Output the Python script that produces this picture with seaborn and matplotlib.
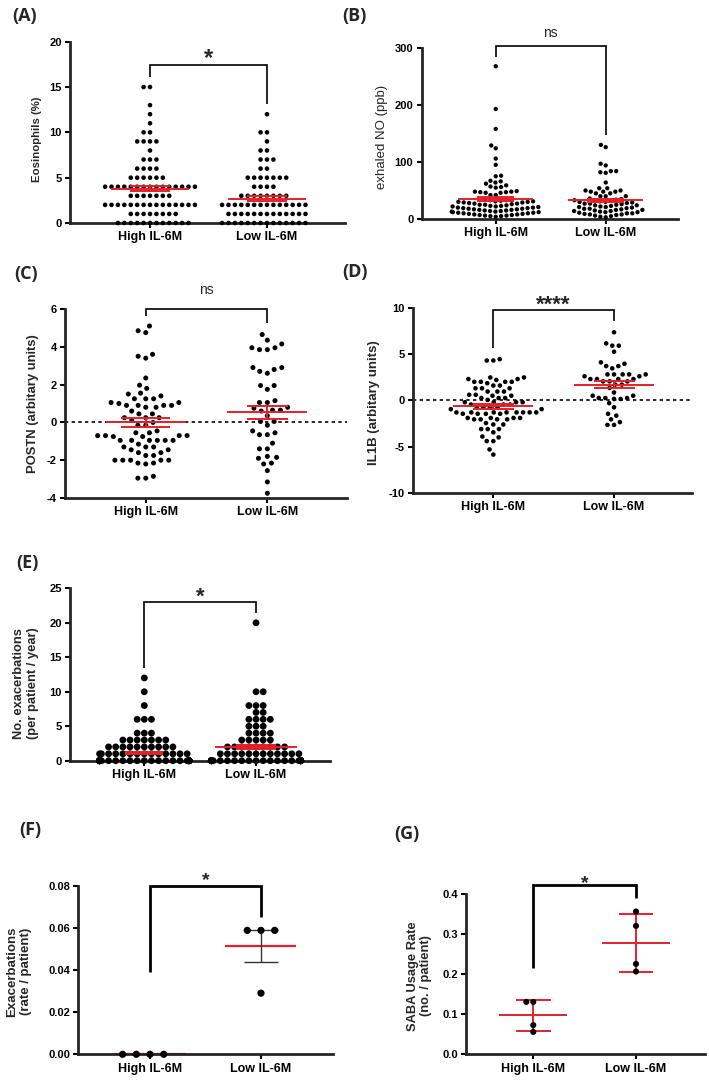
import warnings
warnings.filterwarnings("ignore")
import matplotlib
matplotlib.use("Agg")
import matplotlib.pyplot as plt
import numpy as np
import pandas as pd
import seaborn as sns

sns.set_style("ticks")
plt.rcParams['font.family'] = ['Liberation Sans', 'DejaVu Sans']

W, H = 709, 1081
fig = plt.figure(figsize=(W / 100, H / 100), dpi=100)

groups = ["High IL-6M", "Low IL-6M"]
RED = "#e4202a"

# ---------------- data ----------------
# (A) Eosinophils (%)
eos_high = [15, 15, 13, 12, 11, 10, 10, 9, 9, 9, 9, 8, 7, 7, 7, 6, 6, 6, 6,
            5, 5, 5, 5, 5, 5,
            4, 4, 4, 4, 4, 4, 4, 4, 4, 4, 4, 4, 4, 4, 4,
            3, 3, 3, 3, 3, 3, 3,
            2, 2, 2, 2, 2, 2, 2, 2, 2, 2, 2, 2, 2, 2, 2,
            1, 1, 1, 1, 1, 1, 1, 1,
            0, 0, 0, 0, 0, 0, 0, 0, 0, 0, 0, 0]
eos_low = [12, 10, 10, 9, 8, 8, 7, 7, 7, 6, 6,
           5, 5, 5, 5, 5, 5, 5,
           4, 4, 4, 4,
           3, 3, 3, 3, 3, 3, 3, 3,
           2, 2, 2, 2, 2, 2, 2, 2, 2, 2, 2, 2, 2, 2,
           1, 1, 1, 1, 1, 1, 1, 1, 1, 1, 1, 1, 1,
           0, 0, 0, 0, 0, 0, 0, 0, 0, 0, 0, 0, 0, 0]
eos_mean = [3.8, 2.7]
eos_sem = [0.3, 0.25]

# (B) exhaled NO (ppb)
no_high = [268, 193, 158, 129, 124, 106, 95, 76, 75, 67, 66, 64, 62, 59, 57, 56, 55,
           49, 48, 48, 47, 47, 46, 46, 42, 42,
           35, 34, 33, 33, 32, 31, 31, 30, 30, 29, 29, 28, 27, 27, 26, 25, 25, 24,
           23, 23, 22, 22, 21, 20, 20, 19, 19, 18, 18, 17, 17, 16, 16, 15, 15, 14,
           14, 13, 13, 12, 12, 11, 11, 10, 10, 9, 9, 8, 8, 7, 7, 6, 6, 5, 5, 4]
no_low = [130, 126, 97, 94, 84, 84, 82, 81, 64, 54, 54, 50, 50, 48, 48, 48, 45, 45,
          40, 40, 40,
          36, 35, 34, 33, 33, 32, 31, 30, 30, 29, 28, 27, 27, 26, 25, 24, 24, 23,
          22, 21, 21, 20, 19, 18, 18, 17, 16, 16, 15, 14, 14, 13, 12, 12, 11, 10,
          10, 9, 8, 8, 7, 6, 5, 4, 3]
no_mean = [35.5, 32.5]
no_sem = [3.5, 2.5]

# (C) POSTN
postn_high = [5.1, 4.85, 4.75, 3.6, 3.5, 3.4, 2.35, 1.97, 1.8, 1.55, 1.5, 1.4,
              1.25, 1.25, 1.25, 1.05, 1.05, 1.0, 0.9, 0.9, 0.9, 0.9, 0.8, 0.8,
              0.6, 0.45, 0.45, 0.25, 0.25, 0.25, 0.1, 0.0, -0.15, -0.15, -0.45,
              -0.55, -0.55, -0.7, -0.7, -0.7, -0.7, -0.75, -0.75, -0.95, -0.95,
              -0.95, -0.95, -0.95, -0.95, -1.15, -1.3, -1.3, -1.3, -1.45, -1.45,
              -1.6, -1.6, -1.75, -1.75, -2.0, -2.0, -2.0, -2.0, -2.0, -2.15,
              -2.15, -2.2, -2.85, -2.95, -2.95]
postn_low = [4.65, 4.35, 4.15, 3.95, 3.95, 3.85, 3.85, 2.9, 2.9, 2.8, 2.7, 2.6,
             1.95, 1.95, 1.75, 1.15, 1.05, 1.05, 0.8, 0.75, 0.65, 0.65, 0.6,
             0.35, 0.05, 0.05, -0.15, -0.45, -0.55, -0.65, -0.65, -1.1, -1.4,
             -1.4, -1.8, -1.85, -1.9, -2.15, -2.2, -2.55, -3.15, -3.75]
postn_mean = [0.0, 0.53]
postn_sem = [0.22, 0.35]

# (D) IL1B
il1b_high = [4.45, 4.3, 4.3, 2.47, 2.47, 2.3, 2.3, 2.2, 2.0, 2.0, 2.0, 2.0, 1.85,
             1.6, 1.6, 1.3, 1.3, 1.3, 0.95, 0.95, 0.95, 0.6, 0.6, 0.5, 0.5, 0.25,
             0.25, 0.25, 0.05, -0.2, -0.2, -0.2, -0.2, -0.45, -0.45, -0.45,
             -0.75, -0.75, -0.75, -0.75, -0.95, -0.95, -1.3, -1.3, -1.3, -1.3,
             -1.3, -1.3, -1.3, -1.3, -1.45, -1.45, -1.45, -1.45, -1.9, -1.9,
             -1.9, -1.9, -2.05, -2.05, -2.05, -2.05, -2.45, -2.6, -2.6, -3.1,
             -3.1, -3.1, -3.45, -3.9, -4.0, -4.4, -4.4, -5.3, -5.85]
il1b_low = [7.35, 6.15, 5.9, 5.9, 5.25, 4.1, 3.95, 3.7, 3.7, 3.45, 2.8, 2.8, 2.8,
            2.8, 2.8, 2.6, 2.6, 2.3, 2.3, 2.3, 2.3, 2.05, 2.05, 2.05, 1.7, 1.7,
            1.35, 0.85, 0.5, 0.5, 0.25, 0.25, 0.25, 0.15, 0.15, -0.3, -0.75,
            -1.45, -1.65, -2.05, -2.35, -2.65, -2.65]
il1b_mean = [-0.65, 1.7]
il1b_sem = [0.3, 0.35]

# (E) No. exacerbations (per patient / year)
exa_high = [12, 10, 8, 6, 6, 6, 4, 4, 4,
            3, 3, 3, 3, 3, 3, 3,
            2, 2, 2, 2, 2, 2, 2, 2, 2, 2,
            1, 1, 1, 1, 1, 1, 1, 1, 1, 1, 1, 1, 1, 1,
            0, 0, 0, 0, 0, 0, 0, 0, 0, 0, 0, 0, 0, 0, 0, 0, 0, 0, 0, 0,
            0, 0, 0, 0, 0, 0, 0, 0, 0, 0, 0, 0, 0, 0, 0, 0, 0, 0, 0, 0]
exa_low = [20, 10, 10, 8, 8, 8, 7, 7, 6, 6, 6, 6, 5, 5, 5, 4, 4, 4, 4,
           3, 3, 3, 3, 3,
           2, 2, 2, 2, 2, 2, 2, 2, 2,
           1, 1, 1, 1, 1, 1, 1, 1, 1, 1, 1, 1,
           0, 0, 0, 0, 0, 0, 0, 0, 0, 0, 0, 0, 0, 0, 0, 0, 0, 0, 0, 0,
           0, 0, 0, 0, 0, 0, 0, 0, 0, 0]
exa_mean = [1.1, 2.03]
exa_sem = [0.17, 0.3]

# (F) Exacerbations (rate / patient)
rate_high = [0.0, 0.0, 0.0, 0.0]
rate_low = [0.0588, 0.0588, 0.0588, 0.029]
rate_mean = [0.0, 0.0514]
rate_sem = [0.0, 0.0074]

# (G) SABA usage rate (no. / patient)
saba_high = [0.131, 0.131, 0.073, 0.056]
saba_low = [0.357, 0.321, 0.226, 0.207]
saba_mean = [0.0975, 0.278]
saba_sd = [0.039, 0.072]


# ---------------- helpers ----------------
def make_axes(l, t, r, b):
    return fig.add_axes([l / W, 1 - b / H, (r - l) / W, (b - t) / H])


def swarm(ax, high, low, size, gap):
    # gap: invisible edge width (pt) that widens the swarm spacing
    df = pd.DataFrame({"group": [groups[0]] * len(high) + [groups[1]] * len(low),
                       "value": list(high) + list(low)})
    sns.swarmplot(data=df, x="group", y="value", order=groups, color="black",
                  size=size, linewidth=gap, edgecolor="none", ax=ax, zorder=3)
    for c in ax.collections:
        c.set_clip_on(False)


def style(ax, xlim, ylim, yticks, yticklabels, spine_lw=2.0):
    sns.despine(ax=ax)
    ax.set_xlim(*xlim)
    ax.set_ylim(*ylim)
    ax.set_yticks(yticks)
    ax.set_yticklabels(yticklabels, fontsize=8, fontweight="bold")
    ax.set_xticks([0, 1])
    ax.set_xticklabels(groups, fontsize=9, fontweight="bold")
    ax.set_xlabel("")
    for s in ("left", "bottom"):
        ax.spines[s].set_linewidth(spine_lw)
    ax.tick_params(width=1.5, length=3.5, pad=2.5, colors="black")


def ylabel(ax, text, xpx, l, r, fs, bold, yfrac=0.5):
    ax.set_ylabel(text, fontsize=fs, fontweight="bold" if bold else "normal",
                  linespacing=1.15)
    ax.yaxis.set_label_coords((xpx - l) / (r - l), yfrac)
    ax.yaxis.label.set_verticalalignment("center")


def mean_err(ax, mean, err, mean_hw, cap_hw, color=RED, err_color=RED,
             lw=1.4, err_lw=1.4, z=4):
    for i in range(2):
        ax.hlines(mean[i], i - mean_hw[i], i + mean_hw[i], color=color, lw=lw,
                  zorder=z, clip_on=False)
        if err[i] > 0:
            ax.hlines([mean[i] - err[i], mean[i] + err[i]], i - cap_hw[i],
                      i + cap_hw[i], color=err_color, lw=err_lw, zorder=z,
                      clip_on=False)
            ax.vlines(i, mean[i] - err[i], mean[i] + err[i], color=err_color,
                      lw=err_lw, zorder=z, clip_on=False)


def bracket(ax, yl, yt, yr, lw):
    ax.plot([0, 0, 1, 1], [yl, yt, yt, yr], color="black", lw=lw,
            clip_on=False, solid_capstyle="butt", solid_joinstyle="miter")


def sig(ax, text, ycenter, fs, bold=True, frac=0.57):
    ax.annotate(text, xy=(0.5, ycenter), xytext=(0, -frac * fs),
                textcoords="offset points", ha="center", va="baseline",
                fontsize=fs, fontweight="bold" if bold else "normal",
                annotation_clip=False)


def letter(text, xpx, ypx):
    fig.text(xpx / W, 1 - ypx / H, text, fontsize=13, fontweight="bold",
             family=["Open Sans", "DejaVu Sans"], ha="left", va="center")


# ---------------- (A) ----------------
box = (70, 41.7, 345, 223)
ax = make_axes(*box)
swarm(ax, eos_high, eos_low, 3.3, 1.1)
style(ax, (-0.684, 1.667), (0, 20), [0, 5, 10, 15, 20], ["0", "5", "10", "15", "20"])
ylabel(ax, "Eosinophils (%)", 36.5, box[0], box[2], 8.2, True, 0.46)
mean_err(ax, eos_mean, eos_sem, [0.33, 0.33], [0.17, 0.17])
bracket(ax, 16.1, 17.4, 13.1, 1.2)
sig(ax, "*", 18.9, 17)
letter("(A)", 12, 16.5)

# ---------------- (B) ----------------
box = (421.7, 48, 678, 219)
ax = make_axes(*box)
swarm(ax, no_high, no_low, 3.1, 0.6)
style(ax, (-0.673, 1.657), (0, 300), [0, 100, 200, 300], ["0", "100", "200", "300"])
ylabel(ax, "exhaled NO (ppb)", 382, box[0], box[2], 9.5, False, 0.48)
mean_err(ax, no_mean, no_sem, [0.34, 0.34], [0.17, 0.17])
bracket(ax, 285, 304, 147, 1.2)
sig(ax, "ns", 326, 10, bold=False, frac=0.26)
letter("(B)", 342, 16)

# ---------------- (C) ----------------
box = (65, 309, 347, 498)
ax = make_axes(*box)
swarm(ax, postn_high, postn_low, 3.6, 1.8)
style(ax, (-0.664, 1.655), (-4, 6), [-4, -2, 0, 2, 4, 6],
      ["-4", "-2", "0", "2", "4", "6"])
ax.axhline(0, color="black", lw=1.2, ls=(0, (2, 2)), zorder=2)
ylabel(ax, "POSTN (arbitary units)", 33.5, box[0], box[2], 9.4, True, 0.5)
mean_err(ax, postn_mean, postn_sem, [0.33, 0.33], [0.2, 0.17])
bracket(ax, 5.62, 6.0, 5.24, 1.2)
sig(ax, "ns", 7.0, 10, bold=False, frac=0.26)
letter("(C)", 14, 274)

# ---------------- (D) ----------------
box = (413.3, 307.7, 692, 493)
ax = make_axes(*box)
swarm(ax, il1b_high, il1b_low, 3.3, 1.2)
style(ax, (-0.663, 1.646), (-10, 10), [-10, -5, 0, 5, 10],
      ["-10", "-5", "0", "5", "10"])
ax.axhline(0, color="black", lw=1.2, ls=(0, (2, 2)), zorder=2)
ylabel(ax, "IL1B (arbitary units)", 374, box[0], box[2], 9.5, True, 0.49)
mean_err(ax, il1b_mean, il1b_sem, [0.33, 0.33], [0.17, 0.17])
bracket(ax, 5.63, 9.75, 8.56, 1.2)
sig(ax, "****", 11.04, 16)
letter("(D)", 342, 272)

# ---------------- (E) ----------------
box = (70, 588.3, 330, 760.7)
ax = make_axes(*box)
swarm(ax, exa_high, exa_low, 4.9, 0)
style(ax, (-0.665, 1.662), (0, 25), [0, 5, 10, 15, 20, 25],
      ["0", "5", "10", "15", "20", "25"])
ylabel(ax, "No. exacerbations\n(per patient / year)", 26, box[0], box[2], 9.3, True, 0.45)
mean_err(ax, exa_mean, exa_sem, [0.17, 0.37], [0.17, 0.18])
bracket(ax, 13.5, 22.96, 21.4, 1.2)
sig(ax, "*", 24.7, 16)
letter("(E)", 16, 563)

# ---------------- (F) ----------------
box = (78.3, 885.7, 333, 1054.3)
ax = make_axes(*box)
swarm(ax, rate_high, rate_low, 5.2, 4.2)
style(ax, (-0.646, 1.649), (0, 0.08), [0, 0.02, 0.04, 0.06, 0.08],
      ["0.00", "0.02", "0.04", "0.06", "0.08"])
ylabel(ax, "Exacerbations\n(rate / patient)", 19, box[0], box[2], 9.5, True, 0.49)
mean_err(ax, rate_mean, rate_sem, [0.32, 0.32], [0.155, 0.155],
         err_color="#333333", lw=1.6, err_lw=1.0, z=2)
bracket(ax, 0.039, 0.08, 0.065, 2.0)
sig(ax, "*", 0.0855, 14)
letter("(F)", 19, 830)

# ---------------- (G) ----------------
box = (466, 894.3, 705, 1054.3)
ax = make_axes(*box)
swarm(ax, saba_high, saba_low, 4.4, 0.4)
style(ax, (-0.655, 1.672), (0, 0.4), [0, 0.1, 0.2, 0.3, 0.4],
      ["0.0", "0.1", "0.2", "0.3", "0.4"])
ylabel(ax, "SABA Usage Rate\n(no. / patient)", 419.5, box[0], box[2], 9.3, True, 0.49)
mean_err(ax, saba_mean, saba_sd, [0.33, 0.33], [0.17, 0.17], lw=1.4, err_lw=1.4, z=2)
bracket(ax, 0.217, 0.423, 0.39, 2.0)
sig(ax, "*", 0.444, 14)
letter("(G)", 394, 834)

fig.savefig("out.png", dpi=100, facecolor="white")
